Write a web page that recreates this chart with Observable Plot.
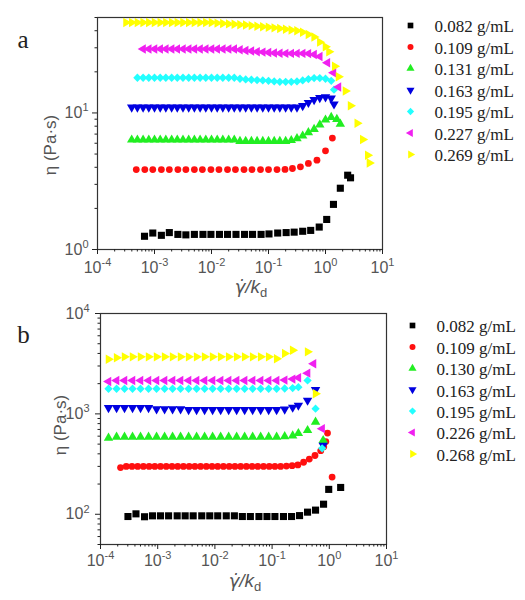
<!DOCTYPE html>
<html>
<head>
<meta charset="utf-8">
<script src="https://cdn.jsdelivr.net/npm/d3@7"></script>
<script src="https://cdn.jsdelivr.net/npm/@observablehq/plot@0.6"></script>
<style>
html,body{margin:0;padding:0;background:#fff;}
#wrap{position:relative;width:525px;height:600px;overflow:hidden;background:#fff;}
.panel{position:absolute;left:0;}
</style>
</head>
<body>
<div id="wrap"><div id="pa" class="panel" style="top:0"></div><div id="pb" class="panel" style="top:300px"></div></div>
<script>
// ---------- legend labels & colours ----------
const labelsA = ["0.082 g/mL","0.109 g/mL","0.131 g/mL","0.163 g/mL","0.195 g/mL","0.227 g/mL","0.269 g/mL"];
const labelsB = ["0.082 g/mL","0.109 g/mL","0.130 g/mL","0.163 g/mL","0.195 g/mL","0.226 g/mL","0.268 g/mL"];
const seriesColors = ["#000000","#ff1010","#22ee22","#0000e0","#22ffff","#f020f0","#ffff00"];

// ---------- axis ticks ----------
const xMajor = [1e-4, 1e-3, 1e-2, 1e-1, 1, 10];
const yMajorA = [1, 10];
const yMinorA = [2,3,4,5,6,7,8,9,20,30,40,50];
const yMajorB = [100, 1000, 10000];
const yMinorB = [50,60,70,80,90,200,300,400,500,600,700,800,900,2000,3000,4000,5000,6000,7000,8000,9000];

// ---------- panel a data ----------
const aBlackX = [6.68e-4,9.33e-4,1.32e-3,1.82e-3,2.57e-3,3.55e-3,5.01e-3,7.08e-3,9.77e-3,1.38e-2,1.91e-2,2.69e-2,3.80e-2,5.25e-2,7.41e-2,0.102,0.145,0.204,0.282,0.398,0.55,0.776,1.05,1.38,1.82,2.45,2.75];
const aBlackY = [1.25,1.32,1.27,1.33,1.29,1.28,1.29,1.29,1.29,1.29,1.29,1.29,1.29,1.29,1.29,1.30,1.32,1.33,1.34,1.36,1.38,1.46,1.66,2.14,2.81,3.5,3.35];
const aRedX = [4.79e-4,6.76e-4,9.33e-4,1.32e-3,1.82e-3,2.57e-3,3.55e-3,5.01e-3,6.92e-3,9.77e-3,1.35e-2,1.91e-2,2.63e-2,3.72e-2,5.13e-2,7.24e-2,0.1,0.141,0.195,0.263,0.363,0.501,0.708,1.0,1.32];
const aRedY = [3.85,3.85,3.85,3.85,3.85,3.85,3.85,3.85,3.85,3.85,3.85,3.85,3.85,3.85,3.85,3.85,3.85,3.85,3.86,3.92,4.03,4.27,4.51,5.28,6.55];
const gridA = [3.16e-4,3.98e-4,5.01e-4,6.31e-4,7.94e-4,1.00e-3,1.26e-3,1.58e-3,2.00e-3,2.51e-3,3.16e-3,3.98e-3,5.01e-3,6.31e-3,7.94e-3,1.00e-2,1.26e-2,1.58e-2,2.00e-2,2.51e-2,3.16e-2,3.98e-2,5.01e-2,6.31e-2,7.94e-2,0.100,0.126,0.158,0.200,0.251,0.316,0.398,0.501,0.631,0.794,1.00,1.26,1.58];
const aGreenX = [...gridA.slice(1), 1.82];
const aGreenY = [6.35,6.35,6.35,6.35,6.35,6.35,6.35,6.35,6.35,6.35,6.35,6.35,6.35,6.35,6.35,6.35,6.35,6.35,6.35,6.2,6.2,6.2,6.2,6.2,6.2,6.2,6.2,6.2,6.3,6.5,6.8,7.2,7.6,8.2,8.9,9.3,9.0,8.3];
const aBlueX = [...gridA.slice(1, 37), 1.41];
const aBlueY = [11,11,11,11,11,11,11,11,11,11,11,11,11,11,11,11,11,11,11,11,11,11,11,11,11,11,11,11,11,11,11.3,11.9,12.5,12.9,13.1,12.8,11.6];
const aCyanX = [...gridA.slice(2, 37), 1.41];
const aCyanY = [18.1,18.1,18.1,18.1,18.1,18.1,18.1,18.1,18.1,18.1,18.1,18.1,18.1,18.1,18.1,18.1,18.1,18.1,17.8,17.6,17.5,17.4,17.3,17.2,17.0,16.9,16.9,16.9,17.0,17.3,17.7,18.0,18.0,17.8,17.2,14.8];
const aMagentaX = [...gridA.slice(3, 35), 1.08, 1.38, 1.69];
const aMagentaY = [29.4,29.4,29.4,29.4,29.4,29.4,29.4,29.4,29.4,29.4,29.4,29.4,29.4,29.4,29.4,29.4,29.4,29.0,28.7,28.4,28.1,27.9,27.7,27.5,27.4,27.3,27.3,27.3,27.3,27.2,26.8,25.9,23.3,19.7,15.5];
const aYellowX = [...gridA.slice(0, 36), 1.15, 1.45, 1.69, 2.24, 2.75, 3.6, 4.5, 5.5, 5.9];
const aYellowY = [45.9,45.9,45.9,45.9,45.9,45.9,45.9,45.9,45.9,45.9,45.9,45.9,45.9,45.9,45.9,45.9,45.5,45.2,44.9,44.6,44.3,44.0,43.6,43.2,42.8,42.4,42.0,41.5,41.0,40.5,40.0,39.0,37.5,36.0,33.0,30.5,28.1,22,18.4,14.5,11.3,8.4,6.4,4.9,4.3];

// ---------- panel b data ----------
const bBlackX = [3.02e-4,4.17e-4,5.89e-4,8.13e-4,1.12e-3,1.55e-3,2.19e-3,3.02e-3,4.17e-3,5.89e-3,8.13e-3,1.12e-2,1.58e-2,2.19e-2,3.02e-2,4.17e-2,5.89e-2,8.13e-2,0.112,0.158,0.219,0.302,0.417,0.575,0.794,0.977,1.58];
const bBlackY = [95,101,94.5,96.5,96.5,96.5,96.5,96.5,96.5,96.5,96.5,96.5,96.5,96.5,95,95,95,95,95,95,95,97,105,110,126,177,185];
const bRedX = [2.24e-4,2.82e-4,3.55e-4,4.47e-4,5.62e-4,7.08e-4,8.91e-4,1.12e-3,1.41e-3,1.78e-3,2.24e-3,2.82e-3,3.55e-3,4.47e-3,5.62e-3,7.08e-3,8.91e-3,1.12e-2,1.41e-2,1.78e-2,2.24e-2,2.82e-2,3.55e-2,4.47e-2,5.62e-2,7.08e-2,8.91e-2,0.112,0.141,0.178,0.224,0.282,0.355,0.447,0.562,0.708,0.8,0.87,0.93,1.12];
const bRedY = [292,300,300,300,300,300,300,300,300,300,300,300,300,300,300,300,300,300,300,300,300,300,300,300,300,300,300,300,300,302,305,310,330,355,385,430,470,530,644,235];
const gridB = [1.38e-4,1.91e-4,2.63e-4,3.63e-4,5.01e-4,6.92e-4,9.55e-4,1.32e-3,1.82e-3,2.51e-3,3.47e-3,4.79e-3,6.61e-3,9.12e-3,1.26e-2,1.74e-2,2.40e-2,3.31e-2,4.57e-2,6.31e-2,8.71e-2,0.120,0.166,0.229];
const bGreenX = [...gridB, 0.288, 0.417, 0.575, 0.782];
const bGreenY = [575,588,588,588,588,588,588,588,588,588,588,588,588,588,588,588,588,588,588,588,588,588,595,605,640,685,829,545];
const bBlueX = [...gridB, 0.288, 0.417, 0.575, 0.782];
const bBlueY = [1150,1150,1150,1150,1150,1150,1120,1120,1120,1120,1100,1100,1100,1100,1100,1100,1100,1100,1100,1100,1100,1100,1110,1160,1216,1362,1740,486];
const bCyanX = [...gridB, 0.288, 0.417, 0.575, 0.75];
const bCyanY = [1780,1780,1780,1780,1780,1780,1780,1780,1780,1780,1780,1780,1780,1780,1780,1780,1780,1780,1780,1780,1780,1780,1790,1810,1847,2153,1127,454];
const bMagentaX = [...gridB, 0.288, 0.417, 0.53, 0.75];
const bMagentaY = [2100,2150,2150,2150,2150,2150,2150,2150,2150,2150,2150,2150,2150,2150,2150,2150,2150,2150,2150,2150,2150,2150,2170,2220,2290,2547,3162,713];
const bYellowX = [...gridB, 0.417, 0.575];
const bYellowY = [3500,3620,3700,3700,3700,3700,3700,3700,3700,3700,3700,3700,3700,3700,3700,3700,3700,3700,3700,3700,3700,3540,4000,4300,4150,1589];

// ---------- symbols ----------
const sqrt3 = Math.sqrt(3);
const triDown = {draw(c, s) {const y = -Math.sqrt(s / (sqrt3 * 3)); c.moveTo(0, -2 * y); c.lineTo(-sqrt3 * y, y); c.lineTo(sqrt3 * y, y); c.closePath();}};
const triLeft = {draw(c, s) {const y = -Math.sqrt(s / (sqrt3 * 3)); c.moveTo(2 * y, 0); c.lineTo(-y, sqrt3 * y); c.lineTo(-y, -sqrt3 * y); c.closePath();}};
const triRight = {draw(c, s) {const y = -Math.sqrt(s / (sqrt3 * 3)); c.moveTo(-2 * y, 0); c.lineTo(y, sqrt3 * y); c.lineTo(y, -sqrt3 * y); c.closePath();}};
const diamond = {draw(c, s) {const d = Math.sqrt(s / 2); c.moveTo(0, -d); c.lineTo(d, 0); c.lineTo(0, d); c.lineTo(-d, 0); c.closePath();}};
const symbols = ["square", "circle", "triangle", triDown, diamond, triLeft, triRight];
const radii = [4.0, 3.4, 3.5, 3.5, 3.3, 3.5, 3.5];
const legendRadii = [3.2, 3.0, 3.0, 3.0, 2.9, 3.0, 3.0];

const sansFont = "'Liberation Sans', Arial, Helvetica, sans-serif";
const serifFont = "'Liberation Serif', 'Times New Roman', serif";
const supFormat = (d) => "10^" + Math.round(Math.log10(d));
const minorOf = (majors) => majors.slice(0, -1).flatMap((d) => [2,3,4,5,6,7,8,9].map((k) => k * d));

function makePanel(cfg) {
  const marks = [Plot.frame({stroke: "#333", strokeWidth: 1.2})];
  cfg.series.forEach((s, i) => {
    const rows = s.x.map((x, j) => ({x, y: s.y[j]}));
    marks.push(Plot.dot(rows, {x: "x", y: "y", symbol: symbols[i], fill: seriesColors[i], r: radii[i]}));
    marks.push(Plot.dot([0], {frameAnchor: "top-right", dx: cfg.legMarkDx, dy: cfg.legDy0 + i * cfg.legStep, symbol: symbols[i], fill: seriesColors[i], r: legendRadii[i]}));
    marks.push(Plot.text([cfg.labels[i]], {frameAnchor: "top-right", dx: cfg.legTextDx, dy: cfg.legDy0 + 1.5 + i * cfg.legStep, textAnchor: "start", lineAnchor: "middle", fontFamily: serifFont, fontSize: 17, fill: "#222"}));
  });
  marks.push(
    Plot.axisX(xMajor, {tickSize: 5, tickPadding: cfg.xPad, tickFormat: supFormat, fontSize: 16, fill: "#555", stroke: "#222", label: null}),
    Plot.axisX(minorOf(xMajor), {tickSize: 2.5, tickFormat: () => "", stroke: "#222", label: null}),
    Plot.axisY(cfg.yMajor, {tickSize: 5, tickPadding: cfg.yPad, tickFormat: supFormat, fontSize: 16, fill: "#555", stroke: "#222", label: null}),
    Plot.axisY(cfg.yMinor, {tickSize: 2.5, tickFormat: () => "", stroke: "#222", label: null}),
    Plot.text([cfg.letter], {frameAnchor: "top-left", dx: cfg.letterDx, dy: cfg.letterDy, textAnchor: "middle", lineAnchor: "bottom", fontFamily: serifFont, fontSize: 25, fill: "#222"})
  );
  const svg = Plot.plot({
    width: 525, height: 300,
    marginTop: cfg.mt, marginBottom: cfg.mb, marginLeft: cfg.ml, marginRight: cfg.mr,
    style: {fontFamily: sansFont, background: "#fff", overflow: "visible"},
    x: {type: "log", domain: [1e-4, 10], label: null},
    y: {type: "log", domain: cfg.yDomain, label: null},
    marks
  });
  // superscript exponents on tick labels
  d3.select(svg).selectAll("text").each(function () {
    const m = /^10\^(-?\d+)$/.exec(this.textContent);
    if (!m) return;
    const t = d3.select(this);
    t.text(null).attr("font-size", 16).style("font-size", "16px").attr("fill", "#555");
    t.append("tspan").text("10");
    t.append("tspan").attr("dy", "-0.6em").style("font-size", "11px").text(m[1]);
  });
  // axis titles
  d3.select(svg).append("text")
    .attr("transform", `translate(${cfg.ylx},${cfg.yly}) rotate(-90)`)
    .attr("text-anchor", "middle").attr("dy", "0.35em")
    .attr("font-family", sansFont).style("font-size", "17px").attr("fill", "#555")
    .text("η (Pa·s)");
  const xl = d3.select(svg).append("text")
    .attr("x", cfg.xlx).attr("y", cfg.xly).attr("text-anchor", "middle")
    .attr("font-family", sansFont).style("font-size", "19px").attr("fill", "#555");
  xl.append("tspan").attr("font-style", "italic").attr("font-family", "'DejaVu Sans', sans-serif").style("font-size", "18px").text("\u03B3\u0307");
  xl.append("tspan").attr("font-style", "italic").text("/k");
  xl.append("tspan").attr("dy", "0.3em").style("font-size", "13px").text("d");
  return svg;
}

const panelA = makePanel({
  letter: "a", labels: labelsA,
  series: [
    {x: aBlackX, y: aBlackY}, {x: aRedX, y: aRedY}, {x: aGreenX, y: aGreenY}, {x: aBlueX, y: aBlueY},
    {x: aCyanX, y: aCyanY}, {x: aMagentaX, y: aMagentaY}, {x: aYellowX, y: aYellowY}
  ],
  mt: 17, mb: 51, ml: 97, mr: 143,
  yDomain: [1, 50], yMajor: yMajorA, yMinor: yMinorA, xPad: 7, yPad: 4,
  legMarkDx: 28, legTextDx: 52, legDy0: 8, legStep: 21.5,
  letterDx: -74.5, letterDy: 30,
  ylx: 50, yly: 145, xlx: 251, xly: 293
});
const panelB = makePanel({
  letter: "b", labels: labelsB,
  series: [
    {x: bBlackX, y: bBlackY}, {x: bRedX, y: bRedY}, {x: bGreenX, y: bGreenY}, {x: bBlueX, y: bBlueY},
    {x: bCyanX, y: bCyanY}, {x: bMagentaX, y: bMagentaY}, {x: bYellowX, y: bYellowY}
  ],
  mt: 13, mb: 56, ml: 100, mr: 139,
  yDomain: [50, 10000], yMajor: yMajorB, yMinor: yMinorB, xPad: 5, yPad: 6,
  legMarkDx: 26, legTextDx: 50, legDy0: 12, legStep: 21.4,
  letterDx: -77, letterDy: 29,
  ylx: 60, yly: 125, xlx: 245, xly: 287
});
document.getElementById("pa").appendChild(panelA);
document.getElementById("pb").appendChild(panelB);
</script>
</body>
</html>
